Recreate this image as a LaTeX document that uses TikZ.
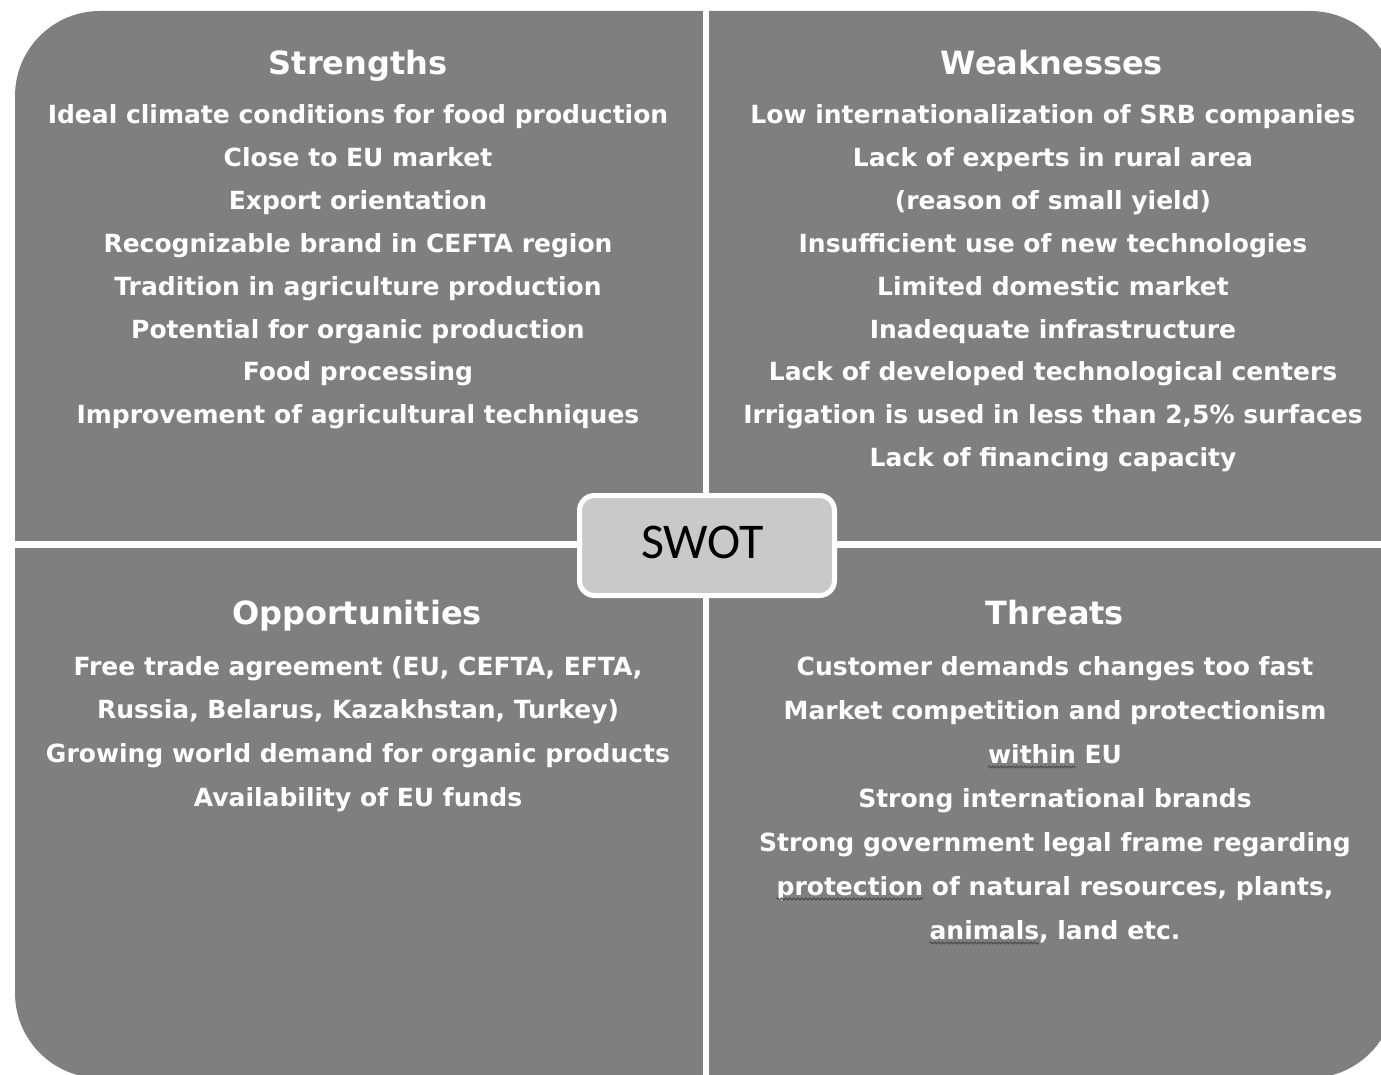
\documentclass[tikz,border=0pt]{standalone}
\usepackage{fontspec}
\setmainfont{DejaVu Sans}
\newfontfamily\swotfont{Carlito}
\usetikzlibrary{decorations.pathmorphing}
\definecolor{panelgray}{RGB}{127,127,127}
\definecolor{boxgray}{RGB}{201,201,201}
\newcommand{\itemfont}{\bfseries\fontsize{25}{30}\selectfont}
\tikzstyle{title}=[text=white,font=\bfseries\fontsize{32}{40}\selectfont,anchor=base,inner sep=0pt]
\tikzstyle{item}=[text=white,font=\itemfont,anchor=base,inner sep=0pt]
\tikzstyle{divider}=[white,line width=6.5pt]
\tikzstyle{centerbox}=[fill=boxgray,draw=white,line width=5pt,rounded corners=15pt]
\tikzstyle{squiggle}=[draw=black!70,line width=1pt,decorate,decoration={snake,segment length=4pt,amplitude=1pt}]
\newlength{\wwithin}
\newlength{\wprotection}
\newlength{\wanimals}

\begin{document}
\settowidth{\wwithin}{\itemfont within}%
\settowidth{\wprotection}{\itemfont protection}%
\settowidth{\wanimals}{\itemfont animals}%
\begin{tikzpicture}[x=1pt,y=-1pt]
    \useasboundingbox (0,0) rectangle (1381,1075);
    % gray panel and the white cross
    \fill[panelgray,rounded corners=85pt] (15,11) rectangle (1395,1078);
    \coordinate (vtop) at (706,0);
    \coordinate (vbot) at (706,1075);
    \coordinate (hleft) at (0,544.5);
    \coordinate (hright) at (1381,544.5);
    \draw[divider] (vtop) -- (vbot);
    \draw[divider] (hleft) -- (hright);
    % strengths
    \node[title] (st) at (358,75) {Strengths};
    \foreach \i/\txt in {1/Ideal climate conditions for food production, 2/Close to EU market,
        3/Export orientation, 4/Recognizable brand in CEFTA region,
        5/Tradition in agriculture production, 6/Potential for organic production,
        7/Food processing, 8/Improvement of agricultural techniques}
        \node[item] (s\i) at (358,{124+42.8*(\i-1)}) {\txt};
    % weaknesses
    \node[title] (wt) at (1052,75) {Weaknesses};
    \foreach \i/\txt in {1/Low internationalization of SRB companies, 2/Lack of experts in rural area,
        3/(reason of small yield), 4/Insufficient use of new technologies,
        5/Limited domestic market, 6/Inadequate infrastructure,
        7/Lack of developed technological centers,
        8/{Irrigation is used in less than 2,5\% surfaces}, 9/Lack of financing capacity}
        \node[item] (w\i) at (1053,{124+42.8*(\i-1)}) {\txt};
    % opportunities
    \node[title] (ot) at (357,624) {Opportunities};
    \foreach \i/\txt in {1/{Free trade agreement (EU, CEFTA, EFTA,}, 2/{Russia, Belarus, Kazakhstan, Turkey)},
        3/Growing world demand for organic products, 4/Availability of EU funds}
        \node[item] (o\i) at (358,{675+43.7*(\i-1)}) {\txt};
    % threats
    \node[title] (tt) at (1055,624) {Threats};
    \foreach \i/\txt in {1/Customer demands changes too fast, 2/Market competition and protectionism,
        3/within EU, 4/Strong international brands,
        5/Strong government legal frame regarding,
        6/{protection of natural resources, plants,}, 7/{animals, land etc.}}
        \node[item] (t\i) at (1055,{675+44*(\i-1)}) {\txt};
    % spelling marks under the first word
    \foreach \n/\len in {t3/\wwithin, t6/\wprotection, t7/\wanimals}
        \draw[squiggle] ([yshift=-4pt]\n.base west) -- ([xshift=\len,yshift=-4pt]\n.base west);
    % center box
    \draw[centerbox] (579.5,495.5) rectangle (834.5,595.5);
    \node[font=\swotfont\fontsize{50}{60}\selectfont,anchor=base,inner sep=0pt] (swot) at (702.5,558) {SWOT};
\end{tikzpicture}
\end{document}
